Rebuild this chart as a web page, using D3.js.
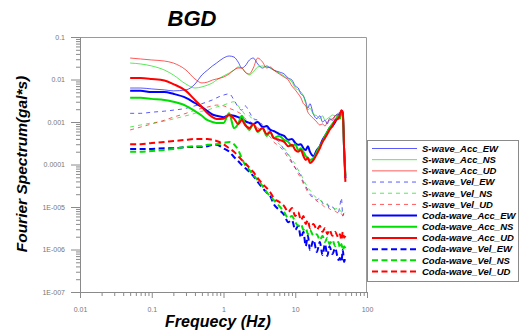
<!DOCTYPE html>
<html>
<head>
<meta charset="utf-8">
<script src="https://cdn.jsdelivr.net/npm/d3@7"></script>
<style>
  body { margin: 0; background: #fff; }
  svg { display: block; font-family: "Liberation Sans", Arial, sans-serif; }
</style>
</head>
<body>
<svg id="chart" width="520" height="332"></svg>
<script>
// frequency grid (Hz)
const freqs = [0.05, 0.07, 0.1, 0.15, 0.2, 0.3, 0.4, 0.5, 0.6, 0.7,
  0.8, 1.0, 1.2, 1.4, 1.6, 1.8, 2.0, 2.3, 2.6, 3.0,
  3.5, 4, 4.5, 5, 6, 7, 8, 9, 10, 11,
  12, 13, 14, 15, 16, 18, 20, 22, 24, 26,
  28, 30, 33, 36, 40, 42, 44, 46, 48, 50];

// Fourier spectrum values (gal*s)
const sAccEW = [0.0063, 0.0063, 0.0060, 0.0057, 0.0054, 0.0057, 0.0078, 0.0128, 0.0167, 0.0208,
  0.0244, 0.032, 0.0357, 0.0338, 0.0258, 0.0186, 0.0208, 0.0288, 0.032, 0.0232,
  0.0186, 0.0208, 0.0186, 0.0167, 0.015, 0.0135, 0.0108, 0.0097, 0.0070, 0.0063,
  0.0046, 0.0041, 0.0030, 0.0021, 0.0027, 0.0015, 0.0012, 0.0014, 0.0010, 0.0011,
  0.0009, 0.0012, 0.0011, 0.0014, 0.0016, 0.0017, 0.0019, 0.0015, 0.00038, 0.000057];
const sAccNS = [0.0244, 0.0232, 0.0208, 0.0167, 0.0128, 0.0078, 0.0063, 0.0067, 0.0074, 0.0083,
  0.0097, 0.0121, 0.0142, 0.0167, 0.0197, 0.0186, 0.015, 0.0128, 0.015, 0.0197,
  0.0208, 0.0197, 0.0186, 0.0167, 0.0142, 0.0121, 0.0103, 0.0087, 0.0063, 0.0057,
  0.0051, 0.0041, 0.0027, 0.0019, 0.0021, 0.0015, 0.0014, 0.0012, 0.0014, 0.0011,
  0.0012, 0.0013, 0.00146, 0.0014, 0.0015, 0.00146, 0.0016, 0.0012, 0.00038, 0.000048];
const sAccUD = [0.032, 0.0304, 0.0288, 0.0272, 0.0244, 0.0167, 0.0103, 0.0083, 0.0087, 0.0097,
  0.0103, 0.0114, 0.0135, 0.0167, 0.0186, 0.0186, 0.015, 0.0135, 0.0186, 0.032,
  0.0258, 0.0186, 0.0197, 0.0167, 0.0135, 0.0114, 0.0097, 0.0070, 0.0057, 0.0046,
  0.0037, 0.0027, 0.0024, 0.0017, 0.00146, 0.0012, 0.0010, 0.00085, 0.0009, 0.0008,
  0.0010, 0.0011, 0.0012, 0.0014, 0.0015, 0.0016, 0.0017, 0.0014, 0.000288, 0.000043];
const sVelEW = [0.0016, 0.0016, 0.0017, 0.0018, 0.0019, 0.0021, 0.0024, 0.0027, 0.0030, 0.0033,
  0.0037, 0.0043, 0.0046, 0.0033, 0.00225, 0.0019, 0.0024, 0.0017, 0.0012, 0.0011,
  0.00085, 0.00072, 0.00058, 0.00042, 0.00034, 0.00022, 0.000167, 0.000114, 0.000083, 0.000067,
  0.000054, 0.000039, 0.000031, 0.000025, 0.000021, 0.000017, 0.0000146, 0.0000163, 0.0000124, 0.0000111,
  0.0000118, 0.0000095, 0.00001, 0.0000085, 0.0000076, 0.0000111, 0.0000163, 0.0000061, 0.0000076, 0.0000068];
const sVelNS = [0.000763, 0.00085, 0.00095, 0.00105, 0.00118, 0.0014, 0.0016, 0.0018, 0.0019, 0.0021,
  0.00225, 0.0025, 0.0028, 0.0030, 0.0024, 0.0019, 0.0015, 0.0014, 0.0011, 0.0010,
  0.0008, 0.00065, 0.00052, 0.00042, 0.0003, 0.00024, 0.000177, 0.000128, 0.000103, 0.000074,
  0.00006, 0.000043, 0.000035, 0.000028, 0.000025, 0.000019, 0.0000163, 0.0000146, 0.0000131, 0.0000124,
  0.0000111, 0.0000105, 0.00001, 0.000009, 0.0000095, 0.0000085, 0.0000076, 0.000008, 0.0000072, 0.0000076];
const sVelUD = [0.00065, 0.00076, 0.0009, 0.0011, 0.0013, 0.0016, 0.0019, 0.0021, 0.00225, 0.0024,
  0.0025, 0.0024, 0.0021, 0.0019, 0.0017, 0.0015, 0.0012, 0.00105, 0.0009, 0.00072,
  0.00065, 0.00052, 0.00044, 0.00034, 0.00027, 0.0002, 0.000142, 0.000108, 0.000083, 0.00006,
  0.000048, 0.000035, 0.000028, 0.000022, 0.000019, 0.0000163, 0.0000138, 0.0000124, 0.0000111, 0.00001,
  0.0000105, 0.000009, 0.0000085, 0.000008, 0.0000072, 0.0000076, 0.0000068, 0.0000065, 0.0000068, 0.0000065];
const codaAccEW = [0.0054, 0.0054, 0.0051, 0.0051, 0.0046, 0.0037, 0.0028, 0.00225, 0.0018, 0.0015,
  0.0014, 0.0013, 0.00146, 0.0014, 0.0013, 0.0012, 0.00105, 0.00095, 0.0009, 0.001,
  0.00076, 0.0008, 0.00065, 0.000614, 0.00052, 0.00047, 0.00038, 0.0004, 0.00032, 0.00029,
  0.0003, 0.00024, 0.00022, 0.00027, 0.0002, 0.000158, 0.00022, 0.00027, 0.00038, 0.00047,
  0.00058, 0.00072, 0.0008, 0.001, 0.0014, 0.0015, 0.0017, 0.0018, 0.00022, 0.000048];
const codaAccNS = [0.0037, 0.0037, 0.0035, 0.0033, 0.0030, 0.0024, 0.0018, 0.0014, 0.0011, 0.001,
  0.00095, 0.00095, 0.0016, 0.00072, 0.0009, 0.0014, 0.0009, 0.00065, 0.0009, 0.00058,
  0.00072, 0.00047, 0.00058, 0.00042, 0.00047, 0.00038, 0.00034, 0.00027, 0.0003, 0.00022,
  0.00024, 0.0002, 0.000158, 0.000142, 0.000128, 0.000142, 0.0002, 0.00027, 0.00034, 0.00047,
  0.00058, 0.00072, 0.0009, 0.0011, 0.0014, 0.0012, 0.0016, 0.0015, 0.00022, 0.000054];
const codaAccUD = [0.0108, 0.0108, 0.0103, 0.0095, 0.0078, 0.0054, 0.0033, 0.00225, 0.0016, 0.0013,
  0.00118, 0.0012, 0.00146, 0.0012, 0.0009, 0.0011, 0.00085, 0.00072, 0.0009, 0.00061,
  0.00072, 0.00052, 0.00058, 0.00042, 0.00038, 0.00034, 0.00027, 0.00029, 0.00022, 0.0002,
  0.00022, 0.000158, 0.000128, 0.000142, 0.000108, 0.000128, 0.000177, 0.00024, 0.00034, 0.00042,
  0.00052, 0.00065, 0.0008, 0.0011, 0.0012, 0.0015, 0.0019, 0.0017, 0.00022, 0.000039];
const codaVelEW = [0.000232, 0.000232, 0.000232, 0.00024, 0.00024, 0.000258, 0.000258, 0.000258, 0.00027, 0.00029,
  0.00029, 0.00024, 0.0002, 0.00015, 0.000121, 0.000097, 0.000083, 0.000067, 0.000054, 0.000039,
  0.000028, 0.000022, 0.000018, 0.0000118, 0.0000085, 0.0000065, 0.0000044, 0.0000049, 0.0000029, 0.0000036,
  0.0000019, 0.0000026, 0.0000012, 0.0000021, 9.7e-7, 0.00000167, 8.7e-7, 0.0000015, 7.4e-7, 0.00000135,
  7.0e-7, 0.0000012, 7.8e-7, 0.00000108, 5.7e-7, 6.3e-7, 5.1e-7, 9.7e-7, 5.1e-7, 7.0e-7];
const codaVelNS = [0.0002, 0.0002, 0.000208, 0.00022, 0.000232, 0.000258, 0.00027, 0.00027, 0.00029, 0.00029,
  0.0003, 0.00032, 0.00034, 0.0003, 0.00022, 0.000142, 0.000097, 0.000074, 0.000057, 0.000043,
  0.000031, 0.000022, 0.000018, 0.0000146, 0.0000105, 0.0000076, 0.0000055, 0.0000061, 0.0000044, 0.0000036,
  0.000004, 0.0000029, 0.0000032, 0.0000023, 0.0000029, 0.0000021, 0.0000023, 0.00000167, 0.0000021, 0.0000015,
  0.0000019, 0.00000135, 0.00000167, 0.0000012, 0.0000015, 0.00000108, 0.00000135, 9.7e-7, 0.0000012, 0.00000108];
const codaVelUD = [0.0003, 0.0003, 0.00032, 0.00034, 0.000357, 0.00038, 0.0004, 0.0004, 0.0004, 0.00038,
  0.000357, 0.0003, 0.00024, 0.0002, 0.000158, 0.000128, 0.000108, 0.000083, 0.000067, 0.000048,
  0.000035, 0.000028, 0.000022, 0.0000163, 0.0000131, 0.0000105, 0.0000076, 0.0000095, 0.0000061, 0.0000076,
  0.0000049, 0.0000061, 0.000004, 0.0000049, 0.0000032, 0.000004, 0.0000029, 0.0000036, 0.0000026, 0.0000032,
  0.0000023, 0.0000029, 0.0000021, 0.0000026, 0.0000019, 0.0000023, 0.00000167, 0.0000026, 0.0000019, 0.0000021];

const seriesNames = ["S-wave_Acc_EW", "S-wave_Acc_NS", "S-wave_Acc_UD",
  "S-wave_Vel_EW", "S-wave_Vel_NS", "S-wave_Vel_UD",
  "Coda-wave_Acc_EW", "Coda-wave_Acc_NS", "Coda-wave_Acc_UD",
  "Coda-wave_Vel_EW", "Coda-wave_Vel_NS", "Coda-wave_Vel_UD"];
const seriesValues = [sAccEW, sAccNS, sAccUD, sVelEW, sVelNS, sVelUD,
  codaAccEW, codaAccNS, codaAccUD, codaVelEW, codaVelNS, codaVelUD];

const xTickValues = [0.01, 0.1, 1, 10, 100];
const xTickLabels = ["0.01", "0.1", "1", "10", "100"];
const yTickValues = [0.1, 0.01, 0.001, 0.0001, 1e-5, 1e-6, 1e-7];
const yTickLabels = ["0.1", "0.01", "0.001", "0.0001", "1E-005", "1E-006", "1E-007"];

// styles by series index
const colors = ["#0000ff", "#00dd00", "#ff0000"];
const styleOf = i => {
  const thick = i >= 6;
  const dashed = Math.floor(i / 3) % 2 === 1;
  return {
    color: colors[i % 3],
    width: thick ? 2 : 0.9,
    opacity: thick ? 1 : 0.72,
    dash: dashed ? (thick ? "6,3.5" : "4,4") : null,
  };
};

const svg = d3.select("#chart");
const plotLeft = 80, plotRight = 367, plotTop = 37, plotBottom = 292;

const x = d3.scaleLog().domain([0.01, 100]).range([plotLeft, plotRight]);
const y = d3.scaleLog().domain([1e-7, 0.1]).range([plotBottom, plotTop]);

// minor tick positions
const minorX = [], minorY = [];
for (let e = -2; e < 2; e++) for (let k = 2; k <= 9; k++) minorX.push(k * Math.pow(10, e));
for (let e = -7; e < -1; e++) for (let k = 2; k <= 9; k++) minorY.push(k * Math.pow(10, e));

const axisColor = "#8a8a8a";

// frame (top and right)
svg.append("path")
  .attr("d", `M${plotLeft},${plotTop + 0.5}H${plotRight - 0.5}V${plotBottom}`)
  .attr("fill", "none")
  .attr("stroke", "#9a9a9a")
  .attr("stroke-width", 1);

// Y axis
svg.append("g")
  .attr("transform", `translate(${plotLeft},0)`)
  .call(d3.axisLeft(y).tickValues(yTickValues).tickSize(9).tickPadding(6)
    .tickFormat((d, i) => yTickLabels[i]));
svg.append("g")
  .attr("transform", `translate(${plotLeft},0)`)
  .call(d3.axisLeft(y).tickValues(minorY).tickSize(4).tickFormat(""))
  .call(g => g.select(".domain").remove());

// X axis
svg.append("g")
  .attr("transform", `translate(0,${plotBottom})`)
  .call(d3.axisBottom(x).tickValues(xTickValues).tickSize(6).tickPadding(9)
    .tickFormat((d, i) => xTickLabels[i]));
svg.append("g")
  .attr("transform", `translate(0,${plotBottom})`)
  .call(d3.axisBottom(x).tickValues(minorX).tickSize(4).tickFormat(""))
  .call(g => g.select(".domain").remove());

svg.selectAll(".domain, .tick line").attr("stroke", axisColor);
svg.selectAll(".tick text")
  .attr("fill", "#777")
  .style("font-size", "7px");

// curves
const line = d3.line()
  .x(d => x(d[0]))
  .y(d => y(d[1]))
  .curve(d3.curveMonotoneX);

const curves = svg.append("g").attr("id", "curves");
seriesValues.forEach((vals, i) => {
  const s = styleOf(i);
  curves.append("path")
    .datum(freqs.map((f, j) => [f, vals[j]]))
    .attr("d", line)
    .attr("fill", "none")
    .attr("stroke", s.color)
    .attr("stroke-width", s.width)
    .attr("stroke-opacity", s.opacity)
    .attr("stroke-dasharray", s.dash)
    .attr("stroke-linejoin", "round");
});

// title and axis labels
svg.append("text")
  .attr("x", 192).attr("y", 26)
  .attr("text-anchor", "middle")
  .style("font-size", "22px")
  .style("font-weight", "bold")
  .style("font-style", "italic")
  .text("BGD");

svg.append("text")
  .attr("transform", "translate(27,164) rotate(-90)")
  .attr("text-anchor", "middle")
  .style("font-size", "15.5px")
  .style("font-weight", "bold")
  .style("font-style", "italic")
  .text("Fourier Spectrum(gal*s)");

svg.append("text")
  .attr("x", 218).attr("y", 327)
  .attr("text-anchor", "middle")
  .style("font-size", "16px")
  .style("font-weight", "bold")
  .style("font-style", "italic")
  .text("Frequecy (Hz)");

// legend
const legend = svg.append("g").attr("id", "legend");
legend.append("rect")
  .attr("x", 367.5).attr("y", 140.5)
  .attr("width", 151).attr("height", 141)
  .attr("fill", "#fff")
  .attr("stroke", "#8a8a8a");

const rowY = d3.scaleLinear().domain([0, 11]).range([148.5, 271.5]);
seriesNames.forEach((name, i) => {
  const s = styleOf(i);
  const yy = rowY(i);
  legend.append("line")
    .attr("x1", 372).attr("x2", 417)
    .attr("y1", yy).attr("y2", yy)
    .attr("stroke", s.color)
    .attr("stroke-width", s.width)
    .attr("stroke-opacity", s.opacity)
    .attr("stroke-dasharray", s.dash);
  legend.append("text")
    .attr("x", 422).attr("y", yy + 3.3)
    .style("font-size", "9.5px")
    .style("font-weight", "bold")
    .style("font-style", "italic")
    .text(name);
});
</script>
</body>
</html>
